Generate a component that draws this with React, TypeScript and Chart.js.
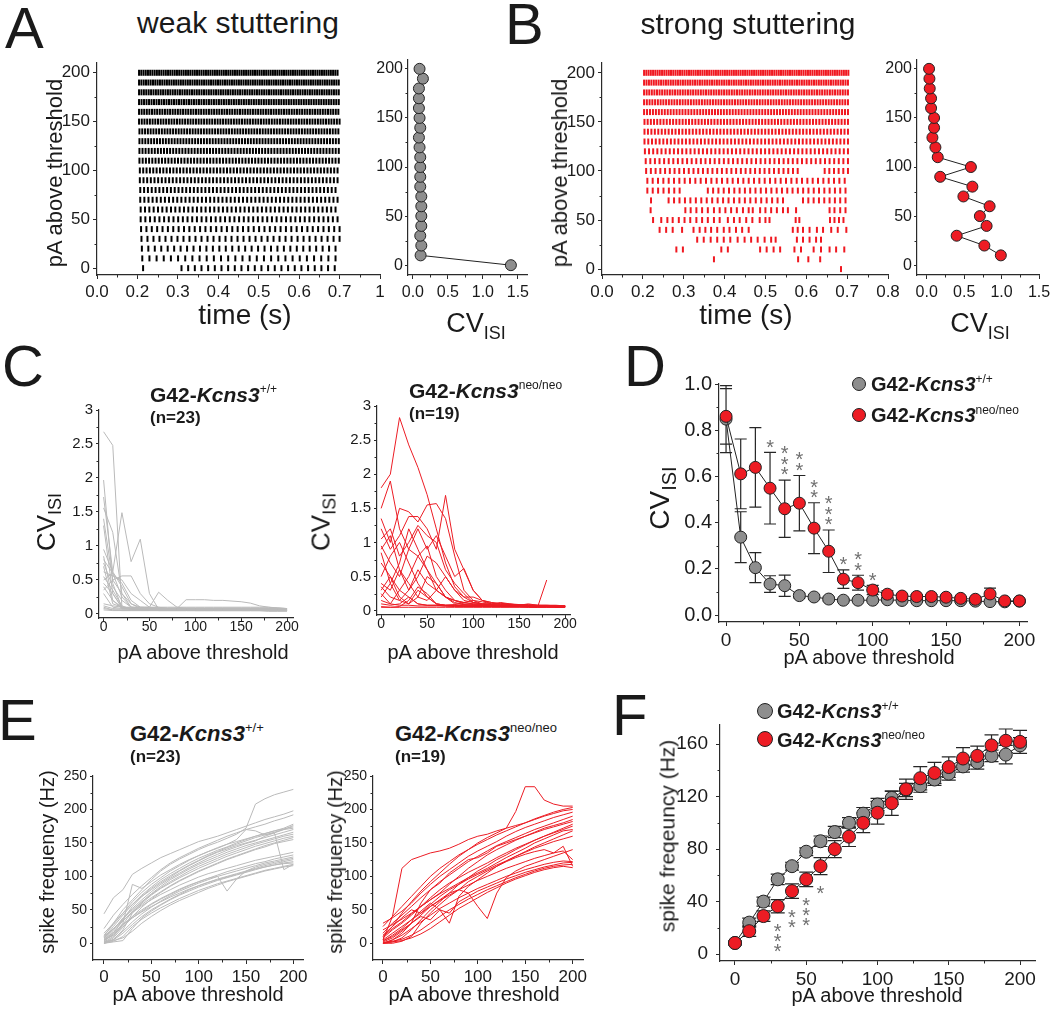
import React, { useEffect, useRef } from "react";
import { Chart, registerables } from "chart.js";

Chart.register(...registerables);

const FONT = "'Liberation Sans', Arial, Helvetica, sans-serif";
Chart.defaults.font.family = FONT;

const AXIS = "#2a2a2a";
const INK = "#1a1a1a";
const GREY_DOT = "#8e8e8e";
const RED_DOT = "#ed1c24";
const GREY_LINE = "#bababa";
const RED_LINE = "#ec1c24";
const STAR = "#707070";

// ---------------- categories / tick labels ----------------
const PA = [0, 10, 20, 30, 40, 50, 60, 70, 80, 90, 100, 110, 120, 130, 140, 150, 160, 170, 180, 190, 200];
const timeTicks = [0.1, 0.2, 0.3, 0.4, 0.5, 0.6, 0.7, 0.8];
const timeMinor = [0.15, 0.25, 0.35, 0.45, 0.55, 0.65, 0.75];
const weakTimeLabels = ["0.0", "0.2", "0.3", "0.4", "0.5", "0.6", "0.7", "1"];
const strongTimeLabels = ["0.0", "0.2", "0.3", "0.4", "0.5", "0.6", "0.7", "0.8"];
const paTicks = [0, 50, 100, 150, 200];
const paLabels = ["0", "50", "100", "150", "200"];
const paMinor = [25, 75, 125, 175];
const cvTicks = [0, 0.5, 1, 1.5];
const cvLabels = ["0.0", "0.5", "1.0", "1.5"];
const cvMinor = [0.25, 0.75, 1.25];
const cvTraceTicks = [0, 0.5, 1, 1.5, 2, 2.5, 3];
const cvTraceLabels = ["0", "0.5", "1", "1.5", "2", "2.5", "3"];
const cvTraceMinor = [0.25, 0.75, 1.25, 1.75, 2.25, 2.75];
const cvMeanTicks = [0, 0.2, 0.4, 0.6, 0.8, 1.0];
const cvMeanLabels = ["0.0", "0.2", "0.4", "0.6", "0.8", "1.0"];
const cvMeanMinor = [0.1, 0.3, 0.5, 0.7, 0.9];
const hzTraceTicks = [0, 50, 100, 150, 200, 250];
const hzTraceLabels = ["0", "50", "100", "150", "200", "250"];
const hzTraceMinor = [25, 75, 125, 175, 225];
const hzMeanTicks = [0, 40, 80, 120, 160];
const hzMeanLabels = ["0", "40", "80", "120", "160"];
const hzMeanMinor = [20, 60, 100, 140];

// ---------------- A: weak stuttering raster ----------------
// [pA, [[first spike (s), last spike (s), number of spikes], ...]] regular spike runs read off each sweep
const weakSweeps: Array<[number, Array<[number, number, number]>]> = [
  [0, [[0.214, 0.214, 1], [0.309, 0.688, 24]]],
  [10, [[0.212, 0.690, 28]]],
  [20, [[0.211, 0.690, 31]]],
  [30, [[0.210, 0.700, 34]]],
  [40, [[0.209, 0.700, 38]]],
  [50, [[0.208, 0.695, 43]]],
  [60, [[0.208, 0.690, 46]]],
  [70, [[0.207, 0.695, 49]]],
  [80, [[0.207, 0.690, 52]]],
  [90, [[0.206, 0.695, 55]]],
  [100, [[0.206, 0.695, 60]]],
  [110, [[0.205, 0.698, 63]]],
  [120, [[0.205, 0.698, 66]]],
  [130, [[0.205, 0.698, 69]]],
  [140, [[0.205, 0.697, 72]]],
  [150, [[0.204, 0.700, 75]]],
  [160, [[0.204, 0.697, 78]]],
  [170, [[0.204, 0.698, 81]]],
  [180, [[0.204, 0.698, 84]]],
  [190, [[0.204, 0.698, 87]]],
  [200, [[0.204, 0.695, 90]]],
];
const cvWeakCell = [1.4, 0.11, 0.12, 0.105, 0.12, 0.12, 0.12, 0.12, 0.105, 0.105, 0.105, 0.105, 0.095, 0.086, 0.105, 0.095, 0.086, 0.086, 0.086, 0.143, 0.095];

// ---------------- B: strong stuttering raster ----------------
const strongSparse: Array<[number, number[]]> = [
  [0, [0.685]],
  [10, [0.374, 0.580, 0.605, 0.634]],
  [20, [0.282, 0.298, 0.392, 0.408, 0.487, 0.503, 0.520, 0.536, 0.571, 0.587, 0.618, 0.636, 0.657, 0.673, 0.693]],
  [30, [0.333, 0.349, 0.366, 0.382, 0.398, 0.414, 0.432, 0.449, 0.465, 0.481, 0.498, 0.514, 0.525, 0.577, 0.592, 0.608, 0.624, 0.636]],
  [40, [0.241, 0.257, 0.273, 0.296, 0.324, 0.339, 0.353, 0.367, 0.382, 0.398, 0.412, 0.428, 0.443, 0.459, 0.567, 0.579, 0.592, 0.608, 0.626, 0.641, 0.661, 0.677, 0.698]],
  [50, [0.225, 0.245, 0.260, 0.273, 0.288, 0.302, 0.316, 0.331, 0.345, 0.359, 0.374, 0.388, 0.408, 0.423, 0.437, 0.453, 0.468, 0.486, 0.500, 0.510, 0.574, 0.583, 0.658, 0.669, 0.680, 0.691]],
  [60, [0.219, 0.304, 0.317, 0.331, 0.345, 0.359, 0.374, 0.388, 0.402, 0.416, 0.430, 0.445, 0.459, 0.469, 0.487, 0.500, 0.514, 0.528, 0.543, 0.555, 0.575, 0.657, 0.669, 0.683, 0.696]],
];
const strongRuns: Array<[number, Array<[number, number, number]>]> = [
  [70, [[0.220, 0.220, 1], [0.263, 0.543, 22], [0.592, 0.696, 9]]],
  [80, [[0.211, 0.290, 7], [0.359, 0.696, 27]]],
  [90, [[0.211, 0.694, 38]]],
  [100, [[0.208, 0.579, 33], [0.645, 0.702, 6]]],
  [110, [[0.207, 0.702, 45]]],
  [120, [[0.205, 0.702, 50]]],
  [130, [[0.204, 0.702, 55]]],
  [140, [[0.204, 0.702, 60]]],
  [150, [[0.204, 0.702, 65]]],
  [160, [[0.203, 0.702, 70]]],
  [170, [[0.203, 0.702, 75]]],
  [180, [[0.203, 0.702, 80]]],
  [190, [[0.203, 0.702, 85]]],
  [200, [[0.203, 0.703, 92]]],
];
const cvStrongCell = [0.99, 0.77, 0.40, 0.80, 0.71, 0.84, 0.49, 0.61, 0.18, 0.59, 0.147, 0.116, 0.076, 0.098, 0.098, 0.058, 0.058, 0.04, 0.036, 0.031]; // 10..200 pA

// ---------------- C: CV traces per cell ----------------
const cvTracesWT = [
  [2.68, 2.48, 0.10, 0.07, 0.06, 0.06, 0.05, 0.05, 0.05, 0.05, 0.05, 0.05, 0.05, 0.05, 0.05, 0.05, 0.05, 0.05, 0.04, 0.04, 0.04],
  [1.97, 0.45, 0.09, 0.07, 0.07, 0.06, 0.06, 0.06, 0.06, 0.06, 0.05, 0.05, 0.05, 0.05, 0.05, 0.05, 0.05, 0.05, 0.05, 0.05, 0.05],
  [1.72, 0.62, 1.49, 0.77, 1.10, 0.30, 0.07, 0.06, 0.06, 0.06, 0.06, 0.06, 0.06, 0.06, 0.06, 0.05, 0.05, 0.05, 0.05, 0.05, 0.05],
  [1.56, 1.20, 0.30, 0.10, 0.08, 0.07, 0.07, 0.06, 0.06, 0.06, 0.06, 0.06, 0.06, 0.06, 0.06, 0.06, 0.06, 0.06, 0.06, 0.06, 0.06],
  [1.40, 0.50, 0.56, 0.56, 0.30, 0.15, 0.10, 0.08, 0.07, 0.07, 0.07, 0.07, 0.07, 0.07, 0.07, 0.07, 0.07, 0.06, 0.06, 0.06, 0.06],
  [1.30, 0.30, 0.09, 0.08, 0.08, 0.08, 0.07, 0.07, 0.07, 0.07, 0.07, 0.07, 0.07, 0.07, 0.06, 0.06, 0.06, 0.06, 0.06, 0.06, 0.06],
  [0.95, 0.62, 0.40, 0.15, 0.08, 0.07, 0.07, 0.07, 0.07, 0.07, 0.06, 0.06, 0.06, 0.06, 0.06, 0.06, 0.06, 0.06, 0.06, 0.06, 0.06],
  [0.85, 0.20, 0.10, 0.08, 0.08, 0.08, 0.08, 0.07, 0.07, 0.07, 0.07, 0.07, 0.07, 0.07, 0.07, 0.07, 0.07, 0.07, 0.07, 0.07, 0.07],
  [0.80, 0.60, 0.45, 0.20, 0.10, 0.10, 0.32, 0.20, 0.10, 0.08, 0.08, 0.08, 0.07, 0.07, 0.07, 0.07, 0.07, 0.07, 0.07, 0.07, 0.07],
  [0.75, 0.40, 0.20, 0.10, 0.09, 0.08, 0.08, 0.08, 0.08, 0.08, 0.08, 0.08, 0.08, 0.07, 0.07, 0.07, 0.07, 0.07, 0.07, 0.07, 0.07],
  [0.70, 0.15, 0.10, 0.09, 0.09, 0.09, 0.09, 0.09, 0.09, 0.09, 0.09, 0.09, 0.09, 0.09, 0.09, 0.09, 0.09, 0.09, 0.09, 0.09, 0.08],
  [0.62, 0.56, 0.50, 0.30, 0.20, 0.10, 0.08, 0.08, 0.08, 0.21, 0.21, 0.21, 0.20, 0.20, 0.19, 0.18, 0.16, 0.12, 0.10, 0.08, 0.08],
  [0.55, 0.35, 0.12, 0.07, 0.07, 0.07, 0.06, 0.06, 0.06, 0.06, 0.06, 0.06, 0.06, 0.06, 0.06, 0.06, 0.06, 0.06, 0.06, 0.06, 0.06],
  [0.50, 0.60, 0.25, 0.10, 0.09, 0.09, 0.09, 0.08, 0.08, 0.08, 0.08, 0.08, 0.08, 0.08, 0.08, 0.08, 0.08, 0.08, 0.08, 0.08, 0.08],
  [0.45, 0.30, 0.10, 0.08, 0.08, 0.08, 0.08, 0.08, 0.07, 0.07, 0.07, 0.07, 0.07, 0.07, 0.07, 0.07, 0.07, 0.07, 0.07, 0.07, 0.07],
  [0.40, 0.20, 0.08, 0.07, 0.07, 0.07, 0.07, 0.07, 0.07, 0.06, 0.06, 0.06, 0.06, 0.06, 0.06, 0.06, 0.06, 0.06, 0.06, 0.06, 0.06],
  [0.35, 0.50, 0.30, 0.15, 0.10, 0.09, 0.08, 0.08, 0.08, 0.08, 0.08, 0.08, 0.08, 0.08, 0.08, 0.08, 0.08, 0.08, 0.08, 0.08, 0.08],
  [0.30, 0.10, 0.08, 0.08, 0.08, 0.08, 0.08, 0.08, 0.08, 0.08, 0.08, 0.08, 0.08, 0.08, 0.08, 0.08, 0.08, 0.08, 0.08, 0.08, 0.08],
  [0.15, 0.12, 0.10, 0.10, 0.10, 0.10, 0.10, 0.10, 0.10, 0.10, 0.10, 0.10, 0.10, 0.10, 0.10, 0.10, 0.10, 0.10, 0.10, 0.09, 0.08],
  [0.12, 0.08, 0.07, 0.07, 0.07, 0.07, 0.07, 0.07, 0.07, 0.07, 0.07, 0.07, 0.07, 0.07, 0.07, 0.07, 0.07, 0.07, 0.07, 0.07, 0.07],
  [0.10, 0.06, 0.05, 0.05, 0.05, 0.05, 0.05, 0.05, 0.05, 0.05, 0.05, 0.05, 0.05, 0.05, 0.05, 0.05, 0.05, 0.05, 0.05, 0.05, 0.05],
  [0.08, 0.06, 0.06, 0.06, 0.06, 0.06, 0.06, 0.06, 0.06, 0.06, 0.06, 0.06, 0.06, 0.06, 0.06, 0.06, 0.06, 0.06, 0.06, 0.06, 0.06],
  [0.06, 0.05, 0.05, 0.05, 0.05, 0.05, 0.05, 0.05, 0.05, 0.05, 0.05, 0.05, 0.05, 0.05, 0.05, 0.05, 0.05, 0.05, 0.05, 0.05, 0.05],
];
const cvTracesNeo: Array<Array<number | null>> = [
  [1.80, 2.00, 2.83, 2.43, 2.10, 1.70, 1.20, 0.70, 0.35, 0.20, 0.12, 0.10, 0.09, 0.08, 0.08, 0.07, 0.07, 0.07, 0.06, 0.06, 0.06],
  [1.50, 1.90, 1.20, 0.90, 0.80, 0.60, 0.40, 0.20, 0.12, 0.09, 0.08, 0.08, 0.07, 0.07, 0.07, 0.07, 0.06, 0.06, 0.06, 0.06, 0.06],
  [1.35, 1.00, 1.50, 1.45, 1.30, 1.55, 1.57, 1.35, 0.80, 0.30, 0.15, 0.10, 0.09, 0.08, 0.08, 0.08, 0.07, 0.07, 0.07, 0.07, 0.06],
  [1.20, 0.90, 1.10, 1.38, 1.38, 1.20, 0.90, 1.69, 0.90, 0.60, 0.30, 0.15, 0.10, 0.09, 0.08, 0.08, 0.08, 0.07, 0.07, 0.07, 0.07],
  [1.05, 1.20, 0.80, 1.00, 1.25, 1.10, 1.00, 0.60, 0.40, 0.25, 0.12, 0.10, 0.09, 0.08, 0.08, 0.08, 0.07, 0.07, 0.07, 0.06, 0.06],
  [0.95, 0.70, 0.50, 0.90, 1.20, 0.90, 1.10, 0.80, 0.50, 0.62, 0.30, 0.15, 0.12, 0.10, 0.09, 0.09, 0.08, 0.08, 0.08, 0.07, 0.07],
  [0.90, 1.10, 0.60, 0.30, 0.50, 0.80, 0.70, 0.50, 0.30, 0.20, 0.20, 0.15, 0.12, 0.10, 0.10, 0.09, 0.09, 0.08, 0.08, 0.08, 0.07],
  [0.85, 0.40, 0.70, 1.20, 0.90, 0.60, 0.30, 0.20, 0.15, 0.12, 0.10, 0.09, 0.08, 0.08, 0.08, 0.07, 0.07, 0.07, 0.07, 0.07, 0.07],
  [0.70, 0.50, 0.30, 0.50, 0.80, 0.95, 0.50, 0.30, 0.15, 0.10, 0.09, 0.08, 0.08, 0.08, 0.07, 0.07, 0.07, 0.07, 0.06, 0.06, 0.06],
  [0.50, 0.80, 1.00, 0.70, 0.40, 0.20, 0.10, 0.08, 0.08, 0.07, 0.07, 0.07, 0.07, 0.06, 0.06, 0.06, 0.06, 0.06, 0.06, 0.06, 0.06],
  [0.40, 0.30, 0.60, 0.40, 0.20, 0.50, 0.40, 0.20, 0.10, 0.09, 0.08, 0.08, 0.08, 0.07, 0.07, 0.07, 0.07, 0.07, 0.07, 0.07, 0.07],
  [0.35, 0.20, 0.15, 0.30, 0.60, 0.40, 0.30, 0.50, 0.30, 0.15, 0.12, 0.10, 0.10, 0.12, 0.10, 0.08, 0.10, 0.08, 0.07, 0.06, 0.06],
  [0.30, 0.50, 0.20, 0.10, 0.30, 0.20, 0.10, 0.08, 0.08, 0.07, 0.07, 0.07, 0.06, 0.06, 0.06, 0.06, 0.06, 0.06, 0.06, 0.05, 0.05],
  [0.25, 0.10, 0.30, 0.20, 0.10, 0.08, 0.08, 0.07, 0.07, 0.07, 0.06, 0.06, 0.06, 0.06, 0.06, 0.06, 0.05, 0.05, 0.05, 0.05, 0.05],
  [0.20, 0.40, 0.15, 0.10, 0.20, 0.15, 0.30, 0.20, 0.15, 0.12, 0.10, 0.09, 0.08, 0.08, 0.08, 0.07, 0.07, 0.07, 0.07, 0.07, 0.07],
  [0.15, 0.10, 0.08, 0.08, 0.07, 0.07, 0.07, 0.07, 0.06, 0.06, 0.06, 0.06, 0.06, 0.06, 0.06, 0.06, 0.06, 0.05, 0.05, 0.05, 0.05],
  [0.10, 0.08, 0.10, 0.20, 0.10, 0.08, 0.08, 0.07, 0.07, 0.07, 0.07, 0.07, 0.06, 0.06, 0.06, 0.06, 0.06, 0.06, 0.06, 0.06, 0.06],
  [0.06, 0.05, 0.05, 0.05, 0.05, 0.05, 0.05, 0.05, 0.05, 0.05, 0.05, 0.05, 0.05, 0.05, 0.05, 0.05, 0.05, 0.05, 0.45, null, null],
  [0.05, 0.05, 0.06, 0.15, 0.35, 0.25, 0.10, 0.08, 0.09, 0.12, 0.15, 0.13, 0.10, 0.11, 0.09, 0.08, 0.08, 0.07, 0.07, 0.06, 0.06],
];

// ---------------- D: mean CV ± SEM ----------------
const dWtMean = [0.848, 0.337, 0.205, 0.134, 0.127, 0.084, 0.078, 0.069, 0.064, 0.064, 0.064, 0.066, 0.063, 0.062, 0.062, 0.062, 0.062, 0.060, 0.058, 0.057, 0.060];
const dWtSem = [0.145, 0.11, 0.065, 0.036, 0.046, 0.01, 0.01, 0.008, 0.006, 0.006, 0.006, 0.006, 0.006, 0.006, 0.006, 0.006, 0.006, 0.006, 0.006, 0.006, 0.006];
const dNeoMean = [0.860, 0.611, 0.639, 0.549, 0.460, 0.484, 0.376, 0.276, 0.155, 0.140, 0.108, 0.090, 0.082, 0.080, 0.080, 0.077, 0.072, 0.068, 0.091, 0.061, 0.061];
const dNeoSem = [0.12, 0.151, 0.172, 0.155, 0.124, 0.12, 0.11, 0.092, 0.04, 0.032, 0.02, 0.015, 0.008, 0.008, 0.008, 0.008, 0.008, 0.007, 0.025, 0.005, 0.005];
const starsD: Array<[number, number]> = [[30, 1], [40, 3], [50, 2], [60, 2], [70, 3], [80, 1], [90, 2], [100, 1]];

// ---------------- E: spike frequency traces per cell ----------------
const hzTracesWT = [
  [10, 30, 50, 65, 80, 95, 108, 118, 126, 133, 140, 146, 151, 157, 163, 172, 208, 216, 222, 226, 230],
  [44, 68, 80, 103, 112, 120, 128, 134, 140, 146, 152, 156, 160, 165, 170, 175, 180, 185, 189, 193, 198],
  [22, 42, 58, 73, 86, 98, 110, 120, 128, 135, 142, 148, 154, 160, 165, 170, 174, 178, 183, 187, 192],
  [5, 12, 30, 88, 82, 92, 102, 110, 118, 125, 131, 137, 143, 148, 152, 156, 160, 164, 168, 172, 178],
  [12, 28, 45, 62, 76, 88, 98, 108, 116, 124, 131, 137, 142, 148, 155, 170, 168, 162, 165, 170, 176],
  [8, 25, 42, 58, 72, 84, 95, 104, 112, 120, 127, 133, 139, 144, 150, 155, 160, 164, 168, 171, 174],
  [3, 15, 35, 55, 70, 82, 92, 101, 109, 117, 124, 131, 137, 143, 148, 153, 158, 162, 166, 170, 172],
  [15, 30, 45, 58, 70, 80, 90, 99, 108, 116, 123, 130, 136, 141, 146, 150, 154, 158, 162, 166, 170],
  [6, 20, 38, 52, 65, 77, 88, 97, 105, 113, 120, 127, 133, 139, 144, 149, 153, 160, 165, 110, 118],
  [2, 10, 28, 48, 62, 74, 85, 95, 103, 111, 118, 124, 130, 136, 141, 146, 150, 154, 158, 162, 166],
  [10, 22, 36, 50, 62, 73, 83, 92, 100, 108, 115, 121, 127, 133, 138, 143, 148, 152, 156, 160, 163],
  [0, 5, 20, 45, 60, 72, 82, 90, 98, 105, 112, 118, 124, 130, 135, 140, 145, 149, 153, 157, 160],
  [4, 18, 33, 47, 58, 68, 77, 86, 94, 101, 108, 114, 120, 126, 131, 136, 141, 146, 150, 154, 158],
  [1, 8, 24, 40, 54, 66, 76, 85, 93, 100, 107, 113, 119, 125, 130, 135, 140, 144, 149, 152, 155],
  [8, 22, 34, 46, 56, 65, 73, 80, 87, 93, 99, 104, 108, 112, 116, 120, 124, 127, 130, 133, 136],
  [3, 14, 28, 40, 50, 59, 67, 74, 81, 87, 92, 97, 102, 107, 111, 115, 119, 122, 126, 129, 132],
  [0, 6, 18, 32, 44, 54, 63, 71, 78, 84, 90, 95, 100, 104, 108, 112, 116, 120, 123, 126, 129],
  [5, 12, 25, 38, 48, 58, 66, 73, 80, 86, 92, 97, 100, 78, 96, 108, 114, 118, 121, 124, 127],
  [2, 5, 15, 28, 40, 50, 58, 66, 73, 80, 86, 91, 96, 100, 104, 108, 112, 116, 119, 122, 125],
  [0, 2, 4, 22, 38, 48, 57, 65, 72, 78, 84, 89, 94, 98, 102, 106, 110, 114, 117, 120, 122],
  [6, 16, 28, 38, 47, 55, 62, 69, 75, 81, 86, 91, 95, 99, 103, 107, 111, 114, 117, 119, 120],
  [0, 3, 10, 25, 36, 45, 53, 60, 67, 73, 79, 84, 89, 93, 97, 101, 105, 109, 112, 115, 118],
  [1, 4, 8, 18, 30, 40, 49, 57, 64, 70, 76, 82, 87, 92, 96, 100, 104, 108, 111, 114, 116],
];
const hzTracesNeo = [
  [10, 25, 45, 62, 78, 92, 105, 118, 130, 140, 150, 158, 165, 172, 197, 234, 234, 214, 208, 205, 205],
  [5, 40, 112, 125, 130, 135, 138, 142, 148, 155, 160, 163, 168, 172, 176, 180, 186, 191, 196, 200, 203],
  [25, 40, 55, 70, 85, 100, 112, 122, 132, 140, 148, 155, 162, 168, 174, 180, 185, 190, 194, 198, 200],
  [30, 38, 48, 60, 75, 88, 100, 110, 120, 130, 138, 145, 152, 160, 167, 173, 178, 183, 188, 192, 196],
  [15, 30, 42, 55, 68, 80, 92, 102, 112, 122, 130, 138, 146, 152, 158, 164, 170, 175, 180, 185, 190],
  [0, 5, 15, 30, 60, 80, 90, 105, 115, 125, 128, 135, 145, 150, 155, 160, 166, 172, 176, 180, 185],
  [20, 28, 36, 45, 55, 65, 75, 88, 100, 112, 122, 132, 140, 147, 154, 160, 165, 170, 174, 178, 182],
  [8, 20, 30, 42, 55, 68, 80, 90, 98, 106, 113, 120, 128, 135, 142, 148, 154, 160, 166, 172, 178],
  [0, 2, 8, 20, 35, 50, 62, 75, 88, 98, 108, 116, 125, 132, 140, 147, 154, 160, 165, 170, 175],
  [3, 12, 22, 35, 48, 60, 50, 30, 70, 85, 95, 105, 115, 123, 130, 137, 144, 150, 156, 162, 168],
  [10, 22, 32, 44, 55, 65, 74, 82, 90, 98, 105, 112, 120, 128, 135, 142, 150, 156, 162, 168, 170],
  [0, 0, 3, 10, 30, 45, 58, 70, 80, 92, 100, 108, 115, 122, 128, 133, 137, 140, 135, 145, 115],
  [2, 8, 18, 30, 42, 55, 65, 75, 80, 75, 55, 37, 75, 98, 108, 115, 120, 125, 130, 135, 140],
  [5, 15, 25, 35, 45, 55, 64, 72, 80, 87, 94, 100, 106, 112, 117, 122, 127, 131, 135, 138, 125],
  [0, 5, 12, 22, 32, 42, 52, 60, 68, 75, 82, 88, 94, 100, 105, 110, 114, 118, 121, 123, 122],
  [1, 3, 6, 12, 20, 30, 40, 50, 58, 66, 73, 80, 86, 92, 98, 103, 108, 112, 115, 117, 118],
  [0, 2, 4, 8, 14, 22, 32, 42, 52, 60, 68, 76, 83, 90, 96, 101, 106, 110, 113, 115, 113],
  [4, 10, 20, 30, 40, 35, 50, 45, 62, 70, 78, 84, 90, 96, 101, 106, 110, 114, 117, 120, 121],
  [12, 25, 38, 50, 45, 58, 70, 80, 88, 96, 103, 110, 117, 123, 130, 136, 142, 147, 152, 156, 160],
];

// ---------------- F: mean spike frequency ± SEM ----------------
const fWtMean = [8.5, 24, 40, 57, 67, 78, 86, 93, 100, 107, 114, 119, 125, 128, 133, 137.5, 143, 146, 151, 152, 159];
const fWtSem = [1.5, 3.5, 3.5, 4, 3, 3, 4, 4.3, 4, 4.7, 4.7, 5, 5, 4.7, 4.4, 5, 4.4, 5, 4.4, 7, 6];
const fNeoMean = [8.5, 17.5, 29, 36.5, 48, 57, 67, 80, 89.5, 100, 107.7, 115, 125.6, 134, 138, 142.5, 149, 151, 159, 162.5, 161.7];
const fNeoSem = [1.5, 4, 4, 5, 5.5, 5.5, 6.5, 6.5, 7.5, 7.5, 8.7, 9.3, 7.7, 8.8, 8, 7.8, 8.3, 7.5, 8, 9, 8.8];
const starsF: Array<[number, number]> = [[30, 3], [40, 2], [50, 3], [60, 1]];

// ================= helpers =================
type Geo = { l: number; t: number; r: number; b: number; yw: number; xh: number; pt: number; pr: number };
type AxisSpec = { min: number; max: number; ticks: number[]; labels: string[]; minor: number[]; size: number; tl: number; pad: number };

function expandRuns(runs: Array<[number, number, number]>): number[] {
  const out: number[] = [];
  runs.forEach(([a, b, n]) => {
    if (n <= 1) {
      out.push(a);
      return;
    }
    for (let i = 0; i < n; i++) out.push(a + ((b - a) * i) / (n - 1));
  });
  return out;
}

function makeAxis(a: AxisSpec, horizontal: boolean, fixed: number) {
  return {
    type: "linear",
    bounds: "data",
    min: a.min,
    max: a.max,
    afterBuildTicks: (s: any) => {
      s.ticks = a.ticks.map((v) => ({ value: v }));
    },
    afterFit: (s: any) => {
      if (horizontal) s.height = fixed;
      else s.width = fixed;
    },
    ticks: {
      autoSkip: false,
      maxRotation: 0,
      minRotation: 0,
      padding: a.pad,
      color: INK,
      font: { size: a.size, family: FONT },
      callback: (_v: any, i: number) => a.labels[i] ?? "",
    },
    grid: { display: true, drawOnChartArea: false, drawTicks: true, tickLength: a.tl, tickColor: AXIS, tickWidth: 1, color: AXIS },
    border: { display: true, color: AXIS, width: 1.2 },
  };
}

function minorTicksPlugin(xm: number[], ym: number[], len: number) {
  return {
    id: "minorTicks",
    afterDraw(chart: any) {
      const { ctx, chartArea } = chart;
      const sx = chart.scales.x;
      const sy = chart.scales.y;
      ctx.save();
      ctx.strokeStyle = AXIS;
      ctx.lineWidth = 1;
      ctx.beginPath();
      xm.forEach((v) => {
        const px = Math.round(sx.getPixelForValue(v)) + 0.5;
        ctx.moveTo(px, chartArea.bottom);
        ctx.lineTo(px, chartArea.bottom + len);
      });
      ym.forEach((v) => {
        const py = Math.round(sy.getPixelForValue(v)) + 0.5;
        ctx.moveTo(chartArea.left, py);
        ctx.lineTo(chartArea.left - len, py);
      });
      ctx.stroke();
      ctx.restore();
    },
  };
}

function errorBarPlugin(sets: Array<{ mean: number[]; sem: number[] }>, cap: number) {
  return {
    id: "errorBars",
    beforeDatasetsDraw(chart: any) {
      const { ctx } = chart;
      const sx = chart.scales.x;
      const sy = chart.scales.y;
      ctx.save();
      ctx.strokeStyle = "#262626";
      ctx.lineWidth = 1.2;
      ctx.beginPath();
      sets.forEach((s) =>
        PA.forEach((xv, i) => {
          const px = sx.getPixelForValue(xv);
          const hi = sy.getPixelForValue(s.mean[i] + s.sem[i]);
          const lo = sy.getPixelForValue(s.mean[i] - s.sem[i]);
          ctx.moveTo(px, hi);
          ctx.lineTo(px, lo);
          ctx.moveTo(px - cap, hi);
          ctx.lineTo(px + cap, hi);
          ctx.moveTo(px - cap, lo);
          ctx.lineTo(px + cap, lo);
        })
      );
      ctx.stroke();
      ctx.restore();
    },
  };
}

function starsPlugin(items: Array<[number, number]>, mean: number[], sem: number[], above: boolean, gap: number, step: number, size: number) {
  return {
    id: "stars",
    afterDatasetsDraw(chart: any) {
      const { ctx } = chart;
      const sx = chart.scales.x;
      const sy = chart.scales.y;
      ctx.save();
      ctx.fillStyle = STAR;
      ctx.font = `${size}px ${FONT}`;
      ctx.textAlign = "center";
      ctx.textBaseline = "alphabetic";
      items.forEach(([xv, n]) => {
        const i = PA.indexOf(xv);
        const edge = above ? sy.getPixelForValue(mean[i] + sem[i]) : sy.getPixelForValue(mean[i] - sem[i]);
        const px = sx.getPixelForValue(xv);
        for (let k = 0; k < n; k++) {
          const cy = above ? edge - gap - k * step : edge + gap + k * step;
          ctx.fillText("*", px, cy + size * 0.57);
        }
      });
      ctx.restore();
    },
  };
}

function buildConfig(geo: Geo, xa: AxisSpec, ya: AxisSpec, datasets: any[], extra: any[] = []) {
  return {
    type: "scatter",
    data: { datasets },
    options: {
      animation: false,
      responsive: false,
      maintainAspectRatio: false,
      events: [],
      layout: { padding: { top: geo.pt, right: geo.pr, left: 0, bottom: 0 } },
      plugins: { legend: { display: false }, tooltip: { enabled: false }, title: { display: false } },
      scales: { x: makeAxis(xa, true, geo.xh), y: makeAxis(ya, false, geo.yw) },
    },
    plugins: [minorTicksPlugin(xa.minor, ya.minor, 2.5), ...extra],
  };
}

function rasterDataset(points: Array<{ x: number; y: number }>, color: string) {
  return {
    data: points,
    showLine: false,
    pointStyle: "line",
    pointRotation: 90,
    pointRadius: 3,
    pointBorderWidth: 2,
    pointBorderColor: color,
    pointBackgroundColor: color,
    borderColor: color,
  };
}

function traceDatasets(traces: Array<Array<number | null>>, color: string) {
  return traces.map((vals) => ({
    data: vals
      .map((v, i) => (v === null ? null : { x: PA[i], y: v }))
      .filter((p) => p !== null),
    showLine: true,
    borderColor: color,
    borderWidth: 1,
    pointRadius: 0,
    tension: 0,
  }));
}

function meanDataset(xs: number[], ys: number[], fill: string, radius: number, order: number, swap = false) {
  return {
    data: xs.map((x, i) => (swap ? { x: ys[i], y: x } : { x, y: ys[i] })),
    showLine: true,
    borderColor: "#222",
    borderWidth: 1,
    pointRadius: radius,
    pointBackgroundColor: fill,
    pointBorderColor: "#222",
    pointBorderWidth: 1,
    tension: 0,
    order,
  };
}

// ================= geometry of panels =================
const G_A_RASTER: Geo = { l: 97, t: 63, r: 380, b: 275, yw: 55, xh: 40, pt: 15, pr: 25 };
const G_A_CV: Geo = { l: 408, t: 60, r: 527, b: 275, yw: 45, xh: 40, pt: 15, pr: 25 };
const G_B_RASTER: Geo = { l: 602, t: 63, r: 888, b: 275, yw: 55, xh: 40, pt: 15, pr: 25 };
const G_B_CV: Geo = { l: 917, t: 60, r: 1039, b: 275, yw: 45, xh: 40, pt: 15, pr: 25 };
const G_C_WT: Geo = { l: 99, t: 410, r: 293, b: 618, yw: 45, xh: 35, pt: 15, pr: 20 };
const G_C_NEO: Geo = { l: 377, t: 406, r: 570, b: 615, yw: 45, xh: 35, pt: 15, pr: 20 };
const G_D: Geo = { l: 719, t: 384, r: 1027, b: 622, yw: 55, xh: 40, pt: 15, pr: 20 };
const G_E_WT: Geo = { l: 93, t: 776, r: 303, b: 960, yw: 45, xh: 40, pt: 15, pr: 20 };
const G_E_NEO: Geo = { l: 373, t: 776, r: 583, b: 960, yw: 45, xh: 40, pt: 15, pr: 20 };
const G_F: Geo = { l: 720, t: 720, r: 1035, b: 961, yw: 55, xh: 40, pt: 15, pr: 20 };

// ================= chart builders =================
function buildWeakRaster() {
  const pts: Array<{ x: number; y: number }> = [];
  weakSweeps.forEach(([pa, runs]) => expandRuns(runs).forEach((t) => pts.push({ x: t, y: pa })));
  return buildConfig(
    G_A_RASTER,
    { min: 0.1, max: 0.8, ticks: timeTicks, labels: weakTimeLabels, minor: timeMinor, size: 17, tl: 4, pad: 3 },
    { min: -7, max: 210, ticks: paTicks, labels: paLabels, minor: paMinor, size: 17, tl: 4, pad: 3 },
    [rasterDataset(pts, "#000")]
  );
}
function buildStrongRaster() {
  const pts: Array<{ x: number; y: number }> = [];
  strongSparse.forEach(([pa, ts]) => ts.forEach((t) => pts.push({ x: t, y: pa })));
  strongRuns.forEach(([pa, runs]) => expandRuns(runs).forEach((t) => pts.push({ x: t, y: pa })));
  return buildConfig(
    G_B_RASTER,
    { min: 0.1, max: 0.8, ticks: timeTicks, labels: strongTimeLabels, minor: timeMinor, size: 17, tl: 4, pad: 3 },
    { min: -6, max: 210, ticks: paTicks, labels: paLabels, minor: paMinor, size: 17, tl: 4, pad: 3 },
    [rasterDataset(pts, "#f01820")]
  );
}
function buildCvCell(geo: Geo, pas: number[], cvs: number[], fill: string, xmin: number, xmax: number) {
  return buildConfig(
    geo,
    { min: xmin, max: xmax, ticks: cvTicks, labels: cvLabels, minor: cvMinor, size: 16, tl: 4, pad: 4 },
    { min: -10, max: 209, ticks: paTicks, labels: paLabels, minor: paMinor, size: 16, tl: 3, pad: 2 },
    [meanDataset(pas, cvs, fill, 5.5, 0, true)]
  );
}
function buildCvTraces(geo: Geo, traces: Array<Array<number | null>>, color: string, xmin: number, xmax: number, ymin: number) {
  return buildConfig(
    geo,
    { min: xmin, max: xmax, ticks: paTicks, labels: paLabels, minor: paMinor, size: 14, tl: 3, pad: -2 },
    { min: ymin, max: 3, ticks: cvTraceTicks, labels: cvTraceLabels, minor: cvTraceMinor, size: 15, tl: 3, pad: 3 },
    traceDatasets(traces, color)
  );
}
function buildHzTraces(geo: Geo, traces: Array<Array<number | null>>, color: string, xmin: number, xmax: number) {
  return buildConfig(
    geo,
    { min: xmin, max: xmax, ticks: paTicks, labels: paLabels, minor: paMinor, size: 17, tl: 4, pad: 3 },
    { min: -25, max: 250, ticks: hzTraceTicks, labels: hzTraceLabels, minor: hzTraceMinor, size: 14, tl: 3, pad: 3 },
    traceDatasets(traces, color)
  );
}
function buildD() {
  return buildConfig(
    G_D,
    { min: -4.8, max: 205.2, ticks: paTicks, labels: paLabels, minor: paMinor, size: 19, tl: 4, pad: 3 },
    { min: -0.0303, max: 1.0, ticks: cvMeanTicks, labels: cvMeanLabels, minor: cvMeanMinor, size: 20, tl: 4, pad: 3 },
    [meanDataset(PA, dNeoMean, RED_DOT, 6, 0), meanDataset(PA, dWtMean, GREY_DOT, 6, 1)],
    [
      errorBarPlugin([{ mean: dWtMean, sem: dWtSem }, { mean: dNeoMean, sem: dNeoSem }], 6),
      starsPlugin(starsD, dNeoMean, dNeoSem, true, 10, 10.5, 20),
    ]
  );
}
function buildF() {
  return buildConfig(
    G_F,
    { min: -10.5, max: 210.5, ticks: paTicks, labels: paLabels, minor: paMinor, size: 19, tl: 4, pad: 3 },
    { min: -5.23, max: 175, ticks: hzMeanTicks, labels: hzMeanLabels, minor: hzMeanMinor, size: 19, tl: 4, pad: 8 },
    [meanDataset(PA, fNeoMean, RED_DOT, 6.5, 0), meanDataset(PA, fWtMean, GREY_DOT, 6.5, 1)],
    [
      errorBarPlugin([{ mean: fWtMean, sem: fWtSem }, { mean: fNeoMean, sem: fNeoSem }], 7),
      starsPlugin(starsF, fNeoMean, fNeoSem, false, 14, 10, 20),
    ]
  );
}

// ================= components =================
function ChartBox({ geo, build }: { geo: Geo; build: () => any }) {
  const ref = useRef<HTMLCanvasElement | null>(null);
  const W = geo.r - geo.l + geo.yw + geo.pr;
  const H = geo.b - geo.t + geo.pt + geo.xh;
  useEffect(() => {
    const c = ref.current;
    if (!c) return;
    const chart = new Chart(c, build() as any);
    return () => chart.destroy();
  }, []);
  return (
    <canvas
      ref={ref}
      width={W}
      height={H}
      style={{ position: "absolute", left: geo.l - geo.yw, top: geo.t - geo.pt, width: W, height: H }}
    />
  );
}

function Txt({ x, y, size, anchor = "start", weight = 400, children }: any) {
  const tx = anchor === "middle" ? "-50%" : anchor === "end" ? "-100%" : "0";
  return (
    <div
      style={{
        position: "absolute",
        left: x,
        top: y - 0.8465 * size,
        fontSize: size,
        lineHeight: `${size}px`,
        fontWeight: weight,
        whiteSpace: "nowrap",
        transform: `translateX(${tx})`,
      }}
    >
      {children}
    </div>
  );
}

function VTxt({ cx, cy, size, children }: any) {
  return (
    <div
      style={{
        position: "absolute",
        left: cx,
        top: cy,
        fontSize: size,
        lineHeight: `${size}px`,
        whiteSpace: "nowrap",
        transform: "translate(-50%, -50%) rotate(-90deg)",
      }}
    >
      {children}
    </div>
  );
}

function CvIsi({ sub, drop }: { sub: number; drop: number }) {
  return (
    <>
      CV<span style={{ fontSize: sub, position: "relative", top: drop }}>ISI</span>
    </>
  );
}

function Gene({ size, sup }: { size: number; sup: string }) {
  return (
    <>
      G42-<i>Kcns3</i>
      <span style={{ fontSize: Math.round(size * 0.58), fontWeight: 400, position: "relative", top: -Math.round(size * 0.42) }}>{sup}</span>
    </>
  );
}

function Dot({ cx, cy, r, fill }: any) {
  return (
    <div
      style={{
        position: "absolute",
        left: cx - r,
        top: cy - r,
        width: 2 * r,
        height: 2 * r,
        borderRadius: "50%",
        background: fill,
        border: "1px solid #222",
        boxSizing: "border-box",
      }}
    />
  );
}

export default function App() {
  return (
    <div
      style={{
        position: "absolute",
        left: 0,
        top: 0,
        width: 1050,
        height: 1013,
        background: "#fff",
        overflow: "hidden",
        fontFamily: FONT,
        color: INK,
      }}
    >
      <ChartBox geo={G_A_RASTER} build={buildWeakRaster} />
      <ChartBox geo={G_A_CV} build={() => buildCvCell(G_A_CV, PA, cvWeakCell, GREY_DOT, -0.07, 1.63)} />
      <ChartBox geo={G_B_RASTER} build={buildStrongRaster} />
      <ChartBox geo={G_B_CV} build={() => buildCvCell(G_B_CV, PA.slice(1), cvStrongCell, RED_DOT, -0.13, 1.5)} />
      <ChartBox geo={G_C_WT} build={() => buildCvTraces(G_C_WT, cvTracesWT, GREY_LINE, -5, 206.5, -0.059)} />
      <ChartBox geo={G_C_NEO} build={() => buildCvTraces(G_C_NEO, cvTracesNeo, RED_LINE, -4.5, 205.3, -0.063)} />
      <ChartBox geo={G_D} build={buildD} />
      <ChartBox geo={G_E_WT} build={() => buildHzTraces(G_E_WT, hzTracesWT, GREY_LINE, -11.6, 210.2)} />
      <ChartBox geo={G_E_NEO} build={() => buildHzTraces(G_E_NEO, hzTracesNeo, RED_LINE, -10.5, 210.9)} />
      <ChartBox geo={G_F} build={buildF} />

      {/* panel letters */}
      <Txt x={5} y={48} size={58}>A</Txt>
      <Txt x={505} y={44} size={58}>B</Txt>
      <Txt x={2} y={386} size={58}>C</Txt>
      <Txt x={624} y={386} size={58}>D</Txt>
      <Txt x={-2} y={740} size={58}>E</Txt>
      <Txt x={612} y={735} size={58}>F</Txt>

      {/* A / B */}
      <Txt x={238} y={33} size={30} anchor="middle">weak stuttering</Txt>
      <Txt x={748} y={34} size={30} anchor="middle">strong stuttering</Txt>
      <VTxt cx={55} cy={173} size={22}>pA above threshold</VTxt>
      <VTxt cx={560} cy={173} size={22}>pA above threshold</VTxt>
      <Txt x={245} y={325} size={28} anchor="middle">time (s)</Txt>
      <Txt x={746} y={325} size={28} anchor="middle">time (s)</Txt>
      <Txt x={476} y={333} size={27} anchor="middle"><CvIsi sub={18} drop={7} /></Txt>
      <Txt x={980} y={333} size={27} anchor="middle"><CvIsi sub={18} drop={7} /></Txt>

      {/* C */}
      <Txt x={150} y={402} size={21} weight={700}><Gene size={21} sup="+/+" /></Txt>
      <Txt x={150} y={423} size={17} weight={700}>(n=23)</Txt>
      <Txt x={409} y={398} size={21} weight={700}><Gene size={21} sup="neo/neo" /></Txt>
      <Txt x={409} y={419} size={17} weight={700}>(n=19)</Txt>
      <VTxt cx={47} cy={522} size={26}><CvIsi sub={18} drop={6} /></VTxt>
      <VTxt cx={322} cy={522} size={26}><CvIsi sub={18} drop={6} /></VTxt>
      <Txt x={203} y={659} size={20} anchor="middle">pA above threshold</Txt>
      <Txt x={473} y={659} size={20} anchor="middle">pA above threshold</Txt>

      {/* D */}
      <VTxt cx={661} cy={498} size={28}><CvIsi sub={20} drop={7} /></VTxt>
      <Txt x={869} y={664} size={20} anchor="middle">pA above threshold</Txt>
      <Dot cx={859} cy={384} r={7} fill={GREY_DOT} />
      <Dot cx={859} cy={415} r={7} fill={RED_DOT} />
      <Txt x={871} y={391} size={20} weight={700}><Gene size={20} sup="+/+" /></Txt>
      <Txt x={871} y={422} size={20} weight={700}><Gene size={20} sup="neo/neo" /></Txt>

      {/* E */}
      <Txt x={130} y={742} size={22} weight={700}><Gene size={22} sup="+/+" /></Txt>
      <Txt x={130} y={762} size={17} weight={700}>(n=23)</Txt>
      <Txt x={395} y={742} size={22} weight={700}><Gene size={22} sup="neo/neo" /></Txt>
      <Txt x={395} y={762} size={17} weight={700}>(n=19)</Txt>
      <VTxt cx={47} cy={862} size={20}>spike frequency (Hz)</VTxt>
      <VTxt cx={335} cy={862} size={20}>spike frequency (Hz)</VTxt>
      <Txt x={198} y={1001} size={20} anchor="middle">pA above threshold</Txt>
      <Txt x={474} y={1001} size={20} anchor="middle">pA above threshold</Txt>

      {/* F */}
      <Dot cx={765} cy={711} r={8} fill={GREY_DOT} />
      <Dot cx={765} cy={739} r={8} fill={RED_DOT} />
      <Txt x={777} y={718} size={20} weight={700}><Gene size={20} sup="+/+" /></Txt>
      <Txt x={777} y={747} size={20} weight={700}><Gene size={20} sup="neo/neo" /></Txt>
      <VTxt cx={667} cy={836} size={21}>spike freqeuncy (Hz)</VTxt>
      <Txt x={877} y={1002} size={20} anchor="middle">pA above threshold</Txt>
    </div>
  );
}
